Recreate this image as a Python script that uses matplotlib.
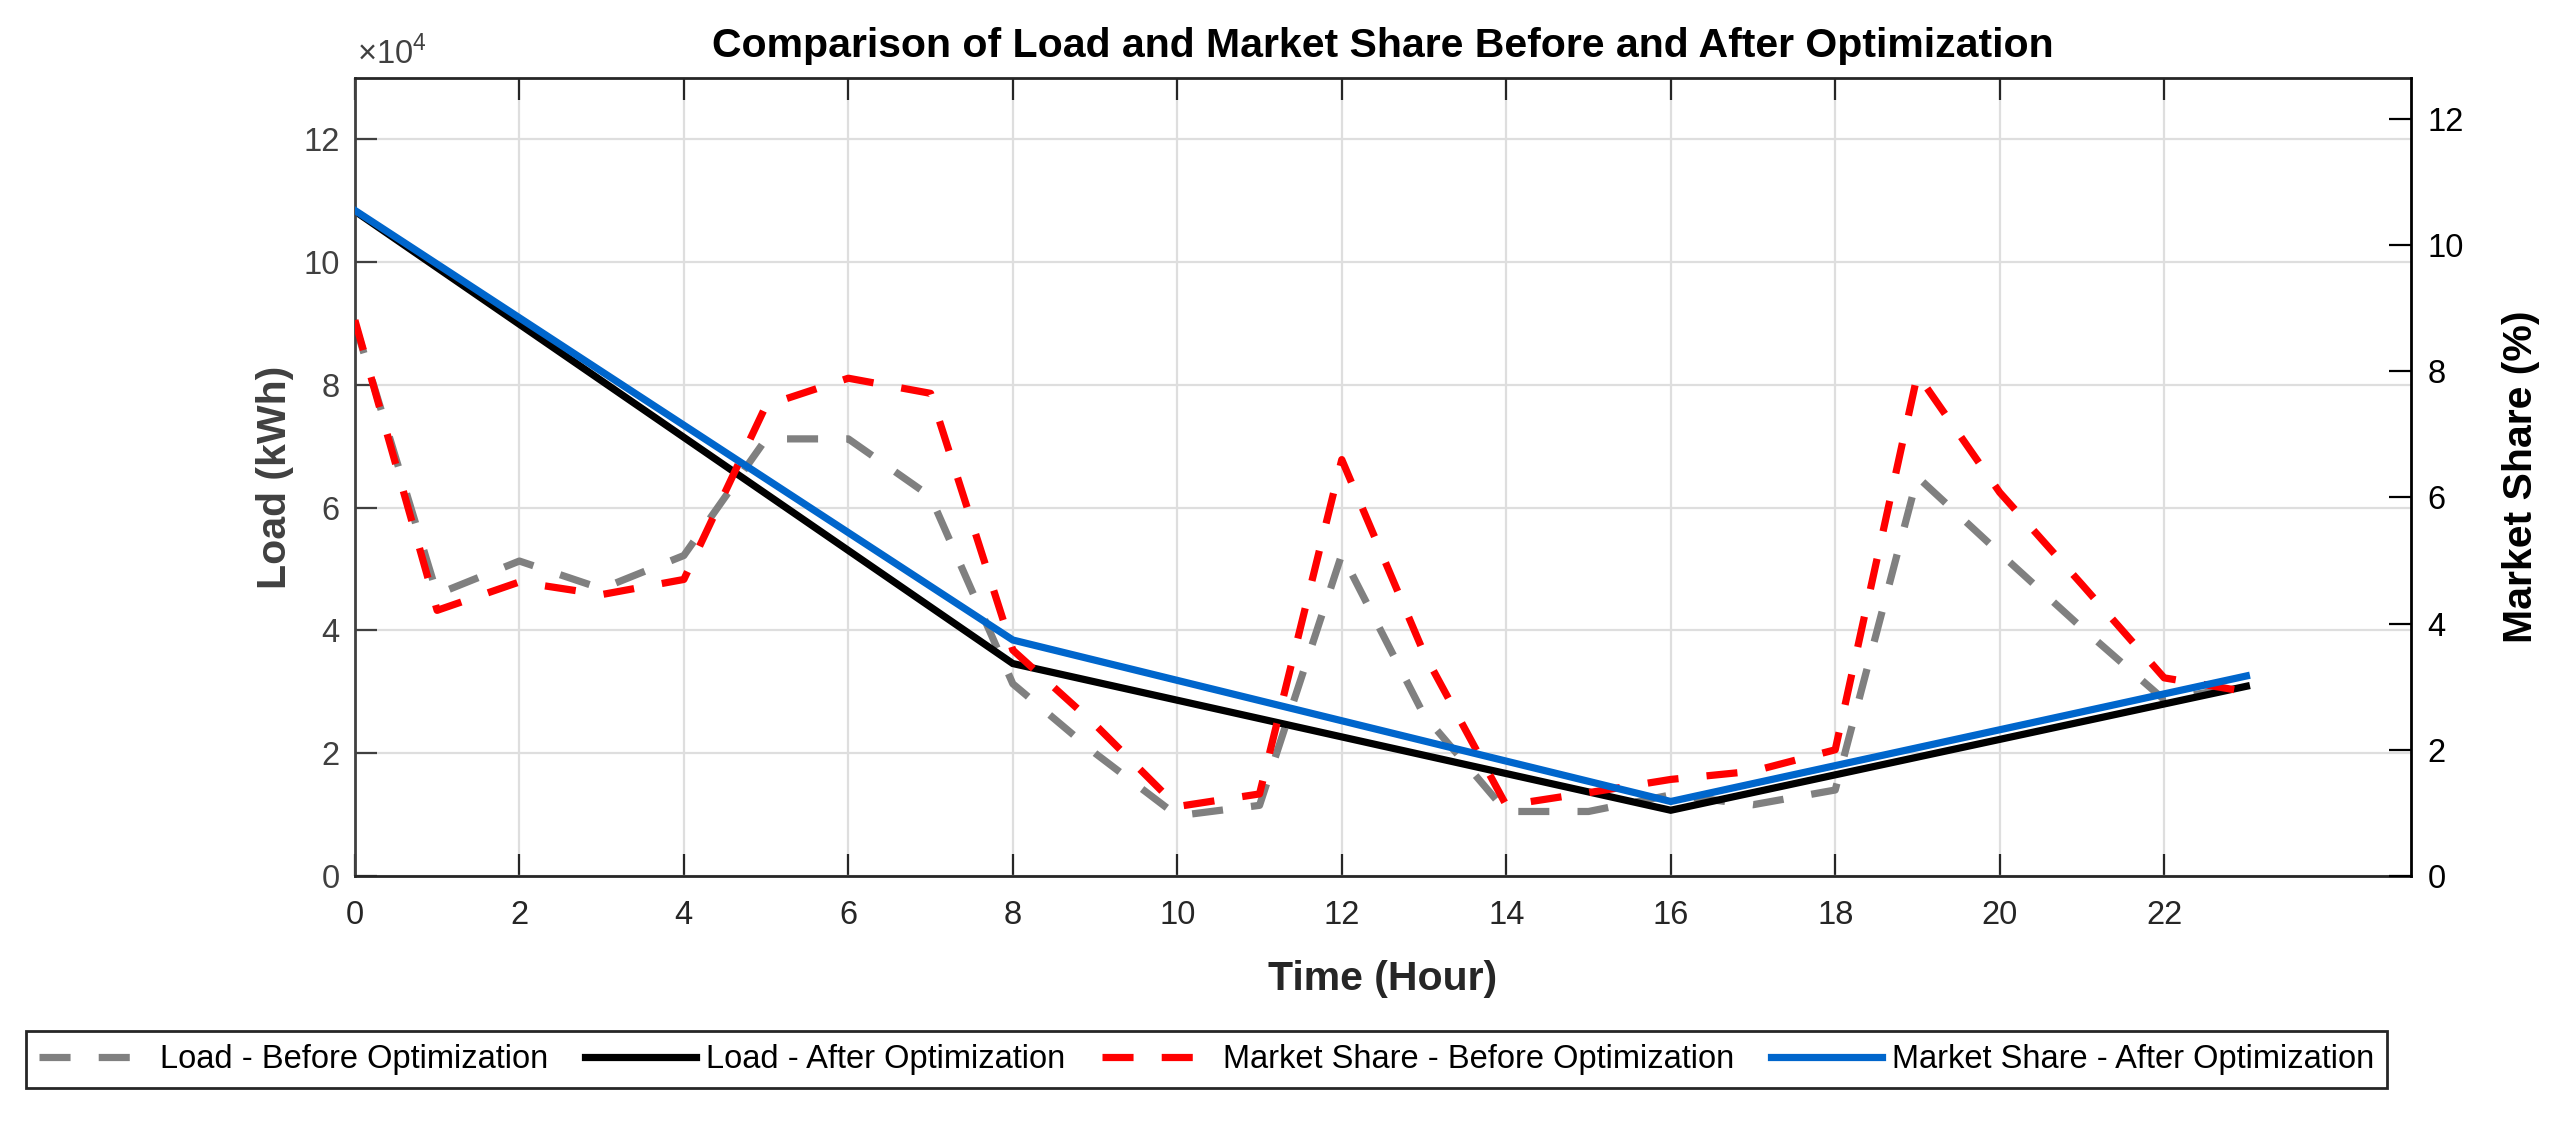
import matplotlib
matplotlib.use("Agg")
import matplotlib.pyplot as plt

plt.rcParams['font.family'] = ['Liberation Sans', 'DejaVu Sans']
plt.rcParams['mathtext.fontset'] = 'custom'
plt.rcParams['mathtext.rm'] = 'Liberation Sans'

# --- data ---
hours = list(range(24))
load_before = [90000, 45900, 51300, 46800, 52200, 71200, 71200, 61800, 31300, 20000,
               9800, 11500, 52400, 26200, 10500, 10500, 13200, 11600, 14000, 65000,
               52600, 40400, 28700, 31000]
share_before = [8.81, 4.21, 4.66, 4.46, 4.70, 7.46, 7.89, 7.65, 3.58, 2.40,
                1.10, 1.30, 6.60, 3.53, 1.12, 1.32, 1.53, 1.66, 2.00, 7.95,
                6.08, 4.62, 3.14, 2.92]

hours_after = [0, 8, 16, 23]
load_after = [108300, 34600, 10700, 30900]
share_after = [10.55, 3.74, 1.18, 3.17]

x_ticks = list(range(0, 23, 2))
load_ticks = list(range(0, 130001, 20000))
share_ticks = list(range(0, 13, 2))

TITLE = "Comparison of Load and Market Share Before and After Optimization"
LABELS = ["Load - Before Optimization", "Load - After Optimization",
          "Market Share - Before Optimization", "Market Share - After Optimization"]

# --- figure ---
W, H = 2555, 1123
fig = plt.figure(figsize=(W / 100, H / 100), dpi=100)
ax1 = fig.add_axes([0.1389, 0.22, 0.8047, 0.7106])
ax2 = ax1.twinx()

LW = 5.2
DASH = (0, (4.3, 3.9))
LEFT_C = '#404040'
AX_C = '#262626'

l1, = ax1.plot(hours, load_before, color='#808080', lw=LW, ls=DASH, dash_capstyle='butt')
l2, = ax1.plot(hours_after, load_after, color='black', lw=LW, solid_joinstyle='miter')
l3, = ax2.plot(hours, share_before, color='#ff0000', lw=LW, ls=DASH, dash_capstyle='butt')
l4, = ax2.plot(hours_after, share_after, color='#0066cc', lw=LW, solid_joinstyle='miter')

ax1.set_xlim(0, 25)
ax1.set_ylim(0, 130000)
ax2.set_ylim(0, 12.65)
ax1.set_xticks(x_ticks)
ax1.set_yticks(load_ticks)
ax2.set_yticks(share_ticks)
# tick labels in units of 1e4, exponent drawn by hand below
ax1.ticklabel_format(axis='y', style='sci', scilimits=(4, 4))
ax1.yaxis.get_offset_text().set_visible(False)

ax1.set_axisbelow(True)
ax1.grid(True, color='#dedede', lw=1.6)

ax1.tick_params(axis='x', direction='in', top=True, length=16, width=1.6,
                colors=AX_C, labelsize=23.5, pad=17)
ax1.tick_params(axis='y', direction='in', length=16, width=1.6,
                colors=LEFT_C, labelsize=23.5, pad=11)
ax2.tick_params(axis='y', direction='in', length=16, width=1.6,
                colors='black', labelsize=23.5, pad=12)

for s in ['top', 'bottom']:
    ax1.spines[s].set_color(AX_C)
    ax1.spines[s].set_linewidth(2)
ax1.spines['left'].set_color(LEFT_C)
ax1.spines['left'].set_linewidth(2)
ax1.spines['right'].set_visible(False)
for s in ['top', 'bottom', 'left']:
    ax2.spines[s].set_visible(False)
ax2.spines['right'].set_color('black')
ax2.spines['right'].set_linewidth(2)

ax1.set_xlabel("Time (Hour)", fontsize=29.5, fontweight='bold', color=AX_C)
ax1.xaxis.set_label_coords(0.5, -0.129)
ax1.xaxis.label.set_va('center')
ax1.set_ylabel("Load (kWh)", fontsize=29.5, fontweight='bold', color=LEFT_C)
ax1.yaxis.set_label_coords(-0.0389, 0.5)
ax1.yaxis.label.set_va('center')
ax2.set_ylabel("Market Share (%)", fontsize=29.5, fontweight='bold', color='black')
ax2.yaxis.set_label_coords(1.0535, 0.5)
ax2.yaxis.label.set_va('center')

fig.text(357 / W, 1 - 64 / H, "×10$^{4}$", fontsize=23.5, color=LEFT_C,
         ha='left', va='baseline')

fig.text(0.5413, 1 - 46 / H, TITLE, fontsize=29.5, fontweight='bold',
         ha='center', va='center')

leg = fig.legend([l1, l2, l3, l4], LABELS, loc='lower left', ncol=4,
                 bbox_to_anchor=(26 / W, 1 - 1088 / H), borderaxespad=0,
                 fontsize=23.5, handlelength=3.4, handletextpad=0.3,
                 columnspacing=1.13, borderpad=0.4, fancybox=False,
                 framealpha=1, edgecolor=AX_C)
leg.get_frame().set_linewidth(2)

fig.savefig("out.png", dpi=100)
